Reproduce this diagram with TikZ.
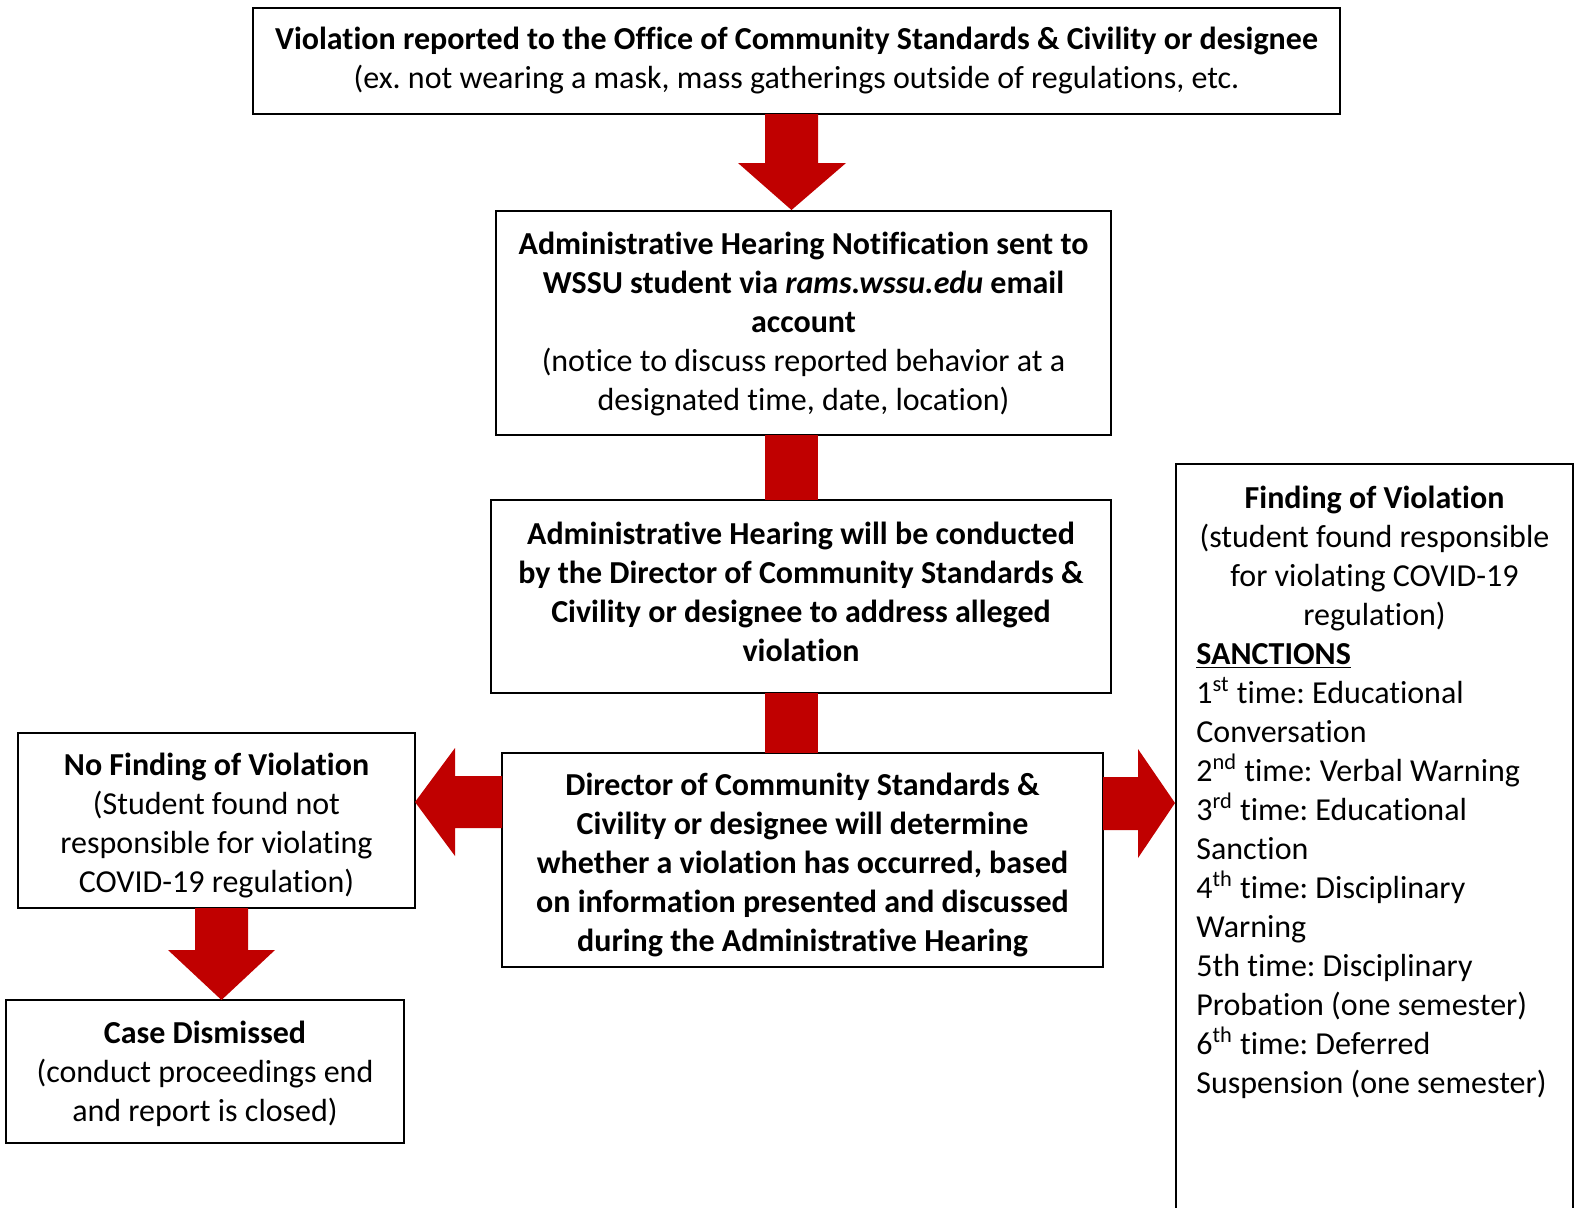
\documentclass[tikz,border=0pt]{standalone}
\usepackage{fontspec}
\setmainfont[Ligatures=NoCommon]{Carlito}
\usetikzlibrary{calc}
\definecolor{arrowred}{RGB}{192,0,0}
\frenchspacing
\begin{document}
\begin{tikzpicture}[x=0.5pt,y=-0.5pt,
  box/.style={draw, line width=1.1pt, inner sep=0pt},
  txt/.style={inner sep=0pt, align=center, font=\fontsize{16}{19.5}\selectfont},
  blockarrow/.style={fill=arrowred, draw=none}]
\useasboundingbox (0,0) rectangle (1576,1207);

% boxes
\node[box, minimum width=543.5pt, minimum height=53pt] (report) at (796.5,61) {};
\node[txt] (reporttxt) at ($(report.center)+(0,0)$)
  {\textbf{Violation reported to the Office of Community Standards \& Civility or designee}\\
   (ex. not wearing a mask, mass gatherings outside of regulations, etc.};
\node[box, minimum width=307.5pt, minimum height=112pt] (notify) at (803.5,323) {};
\node[txt] (notifytxt) at ($(notify.center)+(0,1)$)
  {\textbf{Administrative Hearing Notification sent to}\\
   \textbf{WSSU student via \textit{rams.wssu.edu} email}\\
   \textbf{account}\\
   (notice to discuss reported behavior at a\\
   designated time, date, location)};
\node[box, minimum width=310pt, minimum height=96.5pt] (hearing) at (801,596.5) {};
\node[txt] (hearingtxt) at ($(hearing.center)+(0,-5)$)
  {\textbf{Administrative Hearing will be conducted}\\
   \textbf{by the Director of Community Standards \&}\\
   \textbf{Civility or designee to address alleged}\\
   \textbf{violation}};
\node[box, minimum width=300.5pt, minimum height=107pt] (decide) at (802.5,860) {};
\node[txt] (decidetxt) at ($(decide.center)+(0,5)$)
  {\textbf{Director of Community Standards \&}\\
   \textbf{Civility or designee will determine}\\
   \textbf{whether a violation has occurred, based}\\
   \textbf{on information presented and discussed}\\
   \textbf{during the Administrative Hearing}};
\node[box, minimum width=198.5pt, minimum height=87.5pt] (nofind) at (216.5,820.5) {};
\node[txt] (nofindtxt) at ($(nofind.center)+(0,5)$)
  {\textbf{No Finding of Violation}\\
   (Student found not\\
   responsible for violating\\
   COVID-19 regulation)};
\node[box, minimum width=199pt, minimum height=71.5pt] (dismiss) at (205,1071.5) {};
\node[txt] (dismisstxt) at ($(dismiss.center)+(0,2)$)
  {\textbf{Case Dismissed}\\
   (conduct proceedings end\\
   and report is closed)};

% right open-bottom box
\coordinate (rbl) at (1176,1212);
\coordinate (rtl) at (1176,464);
\coordinate (rtr) at (1573,464);
\coordinate (rbr) at (1573,1212);
\draw[line width=1.1pt] (rbl) -- (rtl) -- (rtr) -- (rbr);
\node[txt, anchor=north, align=center] (findtitle) at (1374.5,480.5)
  {\strut\textbf{Finding of Violation}\\
   (student found responsible\\
   for violating COVID-19\\
   regulation)};
\node[txt, anchor=north west, align=left] (sanctions) at (1196,637)
  {\strut\underline{\textbf{SANCTIONS}}\\
   1\textsuperscript{st} time: Educational\\
   Conversation\\
   2\textsuperscript{nd} time: Verbal Warning\\
   3\textsuperscript{rd} time: Educational\\
   Sanction\\
   4\textsuperscript{th} time: Disciplinary\\
   Warning\\
   5th time: Disciplinary\\
   Probation (one semester)\\
   6\textsuperscript{th} time: Deferred\\
   Suspension (one semester)};

% block arrows
\fill[blockarrow] (765,114) -- (818,114) -- (818,163) -- (846,163) -- (791.5,210)
  -- (738,163) -- (765,163) -- cycle;
\fill[blockarrow] (765,435) rectangle (818,500);
\fill[blockarrow] (765,693) rectangle (818,753);
\fill[blockarrow] (502,776) -- (455,776) -- (455,748) -- (415,802) -- (455,856)
  -- (455,828) -- (502,828) -- cycle;
\fill[blockarrow] (1103,777) -- (1138,777) -- (1138,749) -- (1175,803) -- (1138,858)
  -- (1138,830) -- (1103,830) -- cycle;
\fill[blockarrow] (195,908) -- (248,908) -- (248,950) -- (275,950) -- (221.5,1000)
  -- (168,950) -- (195,950) -- cycle;
\end{tikzpicture}
\end{document}
